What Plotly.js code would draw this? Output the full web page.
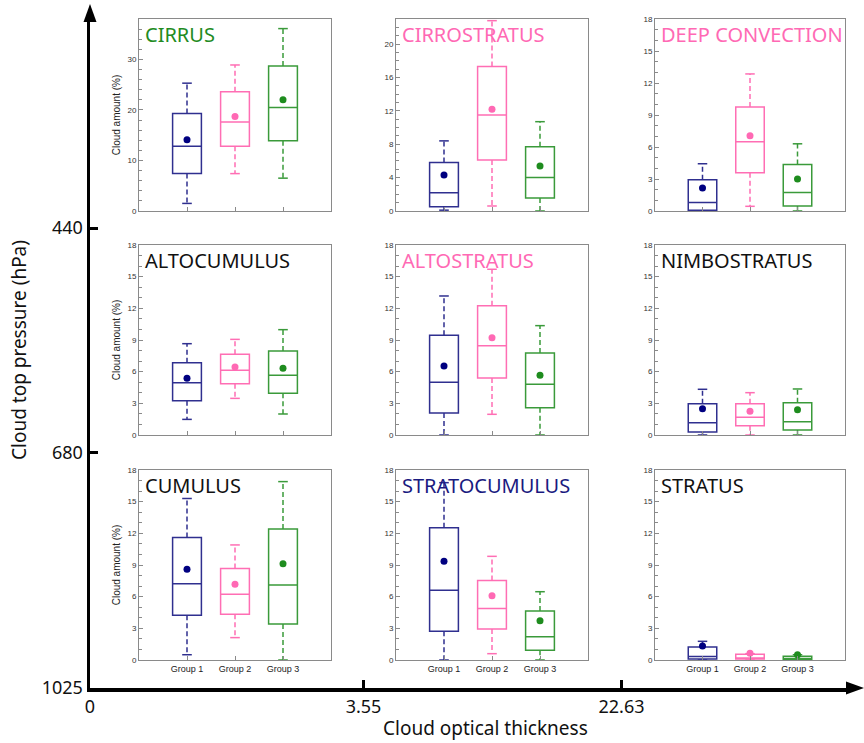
<!DOCTYPE html>
<html>
<head>
<meta charset="utf-8">
<script src="https://cdn.plot.ly/plotly-3.0.1.min.js"></script>
<style>html,body{margin:0;padding:0;background:#fff;}#chart{width:864px;height:743px;}</style>
</head>
<body>
<div id="chart"></div>
<script>
// ---------------- DATA ----------------
const cloudTypes = ['CIRRUS','CIRROSTRATUS','DEEP CONVECTION','ALTOCUMULUS','ALTOSTRATUS','NIMBOSTRATUS','CUMULUS','STRATOCUMULUS','STRATUS'];
const groups = ['Group 1','Group 2','Group 3'];
const whiskerLow = [
  [1.5, 7.4, 6.5],
  [0.1, 0.6, 0.0],
  [0.0, 0.44, 0.0],
  [1.48, 3.47, 1.99],
  [0.0, 1.96, 0.0],
  [0.0, 0.0, 0.0],
  [0.5, 2.12, 0.0],
  [0.0, 0.6, 0.0],
  [0.0, 0.0, 0.0]];
const q1 = [
  [7.4, 12.8, 13.9],
  [0.5, 6.1, 1.55],
  [0.06, 3.58, 0.47],
  [3.25, 4.86, 3.95],
  [2.08, 5.4, 2.59],
  [0.28, 0.88, 0.47],
  [4.23, 4.33, 3.41],
  [2.72, 2.94, 0.92],
  [0.1, 0.1, 0.05]];
const median = [
  [12.8, 17.6, 20.5],
  [2.2, 11.5, 4.0],
  [0.79, 6.49, 1.74],
  [4.96, 6.13, 5.65],
  [4.99, 8.46, 4.8],
  [1.17, 1.67, 1.26],
  [7.23, 6.22, 7.1],
  [6.6, 4.89, 2.21],
  [0.32, 0.2, 0.1]];
const q3 = [
  [19.3, 23.6, 28.7],
  [5.8, 17.3, 7.7],
  [2.94, 9.75, 4.37],
  [6.85, 7.64, 7.96],
  [9.44, 12.25, 7.77],
  [2.97, 2.97, 3.06],
  [11.6, 8.68, 12.4],
  [12.54, 7.52, 4.64],
  [1.23, 0.54, 0.35]];
const whiskerHigh = [
  [25.3, 28.9, 36.1],
  [8.4, 22.8, 10.7],
  [4.43, 12.85, 6.3],
  [8.65, 9.06, 9.98],
  [13.17, 15.7, 10.36],
  [4.33, 4.01, 4.36],
  [15.3, 10.9, 16.9],
  [16.8, 9.82, 6.47],
  [1.77, 0.6, 0.5]];
const meanVal = [
  [14.1, 18.7, 22.0],
  [4.3, 12.2, 5.4],
  [2.15, 7.06, 3.0],
  [5.37, 6.44, 6.32],
  [6.54, 9.22, 5.65],
  [2.49, 2.24, 2.4],
  [8.59, 7.17, 9.13],
  [9.35, 6.09, 3.73],
  [1.33, 0.63, 0.5]];
// outer axes tick labels
const cotTicks = ['0', '3.55', '22.63'];          // cloud optical thickness boundaries
const ctpTicks = ['1025', '680', '440'];          // cloud top pressure boundaries (hPa)

// ---------------- STYLE / LAYOUT ----------------
const W = 864, H = 743;
const px2x = p => p / W;
const px2y = p => 1 - p / H;
const colPx = [[139, 331], [396, 588], [655, 845]];
const rowPx = [[19, 211], [245, 435], [470, 660]];
const yMax   = [38, 23, 18, 18, 18, 18, 18, 18, 18];
const yDtick = [10, 4, 3, 3, 3, 3, 3, 3, 3];
const yMinor = [2, 1, 1, 1, 1, 1, 1, 1, 1];
const titleColors = ['#228B22', '#FF69B4', '#FF69B4', '#111111', '#FF69B4', '#111111', '#111111', '#1a1a80', '#111111'];
const boxColors  = ['#2f2f8f', '#ff6eb4', '#3a9a3a'];
const meanColors = ['#000080', '#ff69b4', '#1e8c1e'];
const frameColor = '#8a8a8a';
const capHalf = 0.1;

const traces = [];
const layout = {
  width: W, height: H,
  margin: {l: 0, r: 0, t: 0, b: 0},
  paper_bgcolor: '#ffffff',
  plot_bgcolor: 'rgba(0,0,0,0)',
  showlegend: false,
  annotations: [],
  shapes: []
};

cloudTypes.forEach((name, k) => {
  const r = Math.floor(k / 3), c = k % 3;
  const xid = k === 0 ? 'x' : 'x' + (k + 1);
  const yid = k === 0 ? 'y' : 'y' + (k + 1);
  const xa = k === 0 ? 'xaxis' : 'xaxis' + (k + 1);
  const ya = k === 0 ? 'yaxis' : 'yaxis' + (k + 1);

  layout[xa] = {
    domain: [px2x(colPx[c][0]), px2x(colPx[c][1])],
    anchor: yid, range: [-1, 3],
    tickvals: [0, 1, 2], ticktext: groups,
    showticklabels: r === 2,
    ticks: 'inside', ticklen: 4, tickcolor: frameColor, tickwidth: 1,
    showline: true, mirror: true, linecolor: frameColor, linewidth: 1,
    showgrid: false, zeroline: false,
    tickfont: {family: 'Liberation Sans, Arial, sans-serif', size: 9, color: '#222'}
  };
  layout[ya] = {
    domain: [px2y(rowPx[r][1]), px2y(rowPx[r][0])],
    anchor: xid, range: [0, yMax[k]],
    tick0: 0, dtick: yDtick[k],
    ticks: 'inside', ticklen: 4, tickcolor: frameColor, tickwidth: 1,
    minor: {ticks: 'inside', dtick: yMinor[k], ticklen: 2.5, tickcolor: frameColor, showgrid: false},
    showline: true, mirror: true, linecolor: frameColor, linewidth: 1,
    showgrid: false, zeroline: false,
    tickfont: {family: 'Liberation Sans, Arial, sans-serif', size: 8, color: '#333'}
  };
  if (c === 0) {
    layout[ya].title = {text: 'Cloud amount (%)', font: {family: 'Liberation Sans, Arial, sans-serif', size: 10, color: '#222'}, standoff: 4};
  }

  for (let g = 0; g < 3; g++) {
    // box body (quartiles + median); whiskers drawn separately (dashed)
    traces.push({
      type: 'box', xaxis: xid, yaxis: yid, orientation: 'v',
      x: [g], q1: [q1[k][g]], median: [median[k][g]], q3: [q3[k][g]],
      lowerfence: [q1[k][g]], upperfence: [q3[k][g]],
      width: 0.6, whiskerwidth: 0, boxpoints: false,
      line: {color: boxColors[g], width: 1.5},
      fillcolor: 'rgba(255,255,255,0)', hoverinfo: 'skip'
    });
    // dashed whiskers
    traces.push({
      type: 'scatter', mode: 'lines', xaxis: xid, yaxis: yid,
      x: [g, g, null, g, g],
      y: [q3[k][g], whiskerHigh[k][g], null, q1[k][g], whiskerLow[k][g]],
      line: {color: boxColors[g], width: 1.5, dash: '5px,3px'},
      hoverinfo: 'skip', cliponaxis: true
    });
    // whisker caps
    traces.push({
      type: 'scatter', mode: 'lines', xaxis: xid, yaxis: yid,
      x: [g - capHalf, g + capHalf, null, g - capHalf, g + capHalf],
      y: [whiskerHigh[k][g], whiskerHigh[k][g], null, whiskerLow[k][g], whiskerLow[k][g]],
      line: {color: boxColors[g], width: 1.5},
      hoverinfo: 'skip'
    });
    // mean marker
    traces.push({
      type: 'scatter', mode: 'markers', xaxis: xid, yaxis: yid,
      x: [g], y: [meanVal[k][g]],
      marker: {color: meanColors[g], size: 7},
      hoverinfo: 'skip'
    });
  }

  layout.annotations.push({
    xref: 'paper', yref: 'paper',
    x: px2x(colPx[c][0] + 4), y: px2y(rowPx[r][0]),
    xanchor: 'left', yanchor: 'top', showarrow: false,
    text: name,
    font: {family: 'Noto Sans, Open Sans, sans-serif', size: 20, color: titleColors[k]}
  });
});

// ---------------- OUTER AXES ----------------
const axX0 = 90, axX1 = 852, axY0 = 688, axY1 = 14;
const mid = (a, b) => (a + b) / 2;
const cotPos = [0,
  (mid(colPx[0][1], colPx[1][0]) - axX0) / (axX1 - axX0),
  (mid(colPx[1][1], colPx[2][0]) - axX0) / (axX1 - axX0)];
const ctpPos = [0,
  (axY0 - mid(rowPx[1][1], rowPx[2][0])) / (axY0 - axY1),
  (axY0 - mid(rowPx[0][1], rowPx[1][0])) / (axY0 - axY1)];

layout.xaxis10 = {
  domain: [px2x(axX0), px2x(axX1)], anchor: 'y10', range: [0, 1],
  tickvals: cotPos, ticktext: cotTicks,
  ticks: 'inside', ticklen: 8, tickwidth: 3, tickcolor: '#000',
  showline: true, linecolor: '#000', linewidth: 3.5,
  showgrid: false, zeroline: false,
  tickfont: {family: 'Noto Sans, Open Sans, sans-serif', size: 18, color: '#111'}
};
layout.yaxis10 = {
  domain: [px2y(axY0), px2y(axY1)], anchor: 'x10', range: [0, 1],
  tickvals: ctpPos, ticktext: ctpTicks,
  ticks: 'inside', ticklen: 8, tickwidth: 3, tickcolor: '#000',
  showline: true, linecolor: '#000', linewidth: 3.5,
  showgrid: false, zeroline: false,
  tickfont: {family: 'Noto Sans, Open Sans, sans-serif', size: 18, color: '#111'}
};
traces.push({type: 'scatter', mode: 'markers', xaxis: 'x10', yaxis: 'y10', x: [], y: [], hoverinfo: 'skip'});

// arrowheads
layout.shapes.push({
  type: 'path', xref: 'paper', yref: 'paper', line: {width: 0}, fillcolor: '#000',
  path: `M ${px2x(90)},${px2y(4)} L ${px2x(83.5)},${px2y(22)} L ${px2x(96.5)},${px2y(22)} Z`
});
layout.shapes.push({
  type: 'path', xref: 'paper', yref: 'paper', line: {width: 0}, fillcolor: '#000',
  path: `M ${px2x(864)},${px2y(688)} L ${px2x(846)},${px2y(681.5)} L ${px2x(846)},${px2y(694.5)} Z`
});

// outer axis titles
layout.annotations.push({
  xref: 'paper', yref: 'paper', x: px2x(485), y: px2y(728),
  xanchor: 'center', yanchor: 'middle', showarrow: false,
  text: 'Cloud optical thickness',
  font: {family: 'Noto Sans, Open Sans, sans-serif', size: 19, color: '#111'}
});
layout.annotations.push({
  xref: 'paper', yref: 'paper', x: px2x(19), y: px2y(350),
  xanchor: 'center', yanchor: 'middle', showarrow: false, textangle: -90,
  text: 'Cloud top pressure (hPa)',
  font: {family: 'Noto Sans, Open Sans, sans-serif', size: 19, color: '#111'}
});

Plotly.newPlot('chart', traces, layout, {staticPlot: true, displayModeBar: false});
</script>
</body>
</html>
